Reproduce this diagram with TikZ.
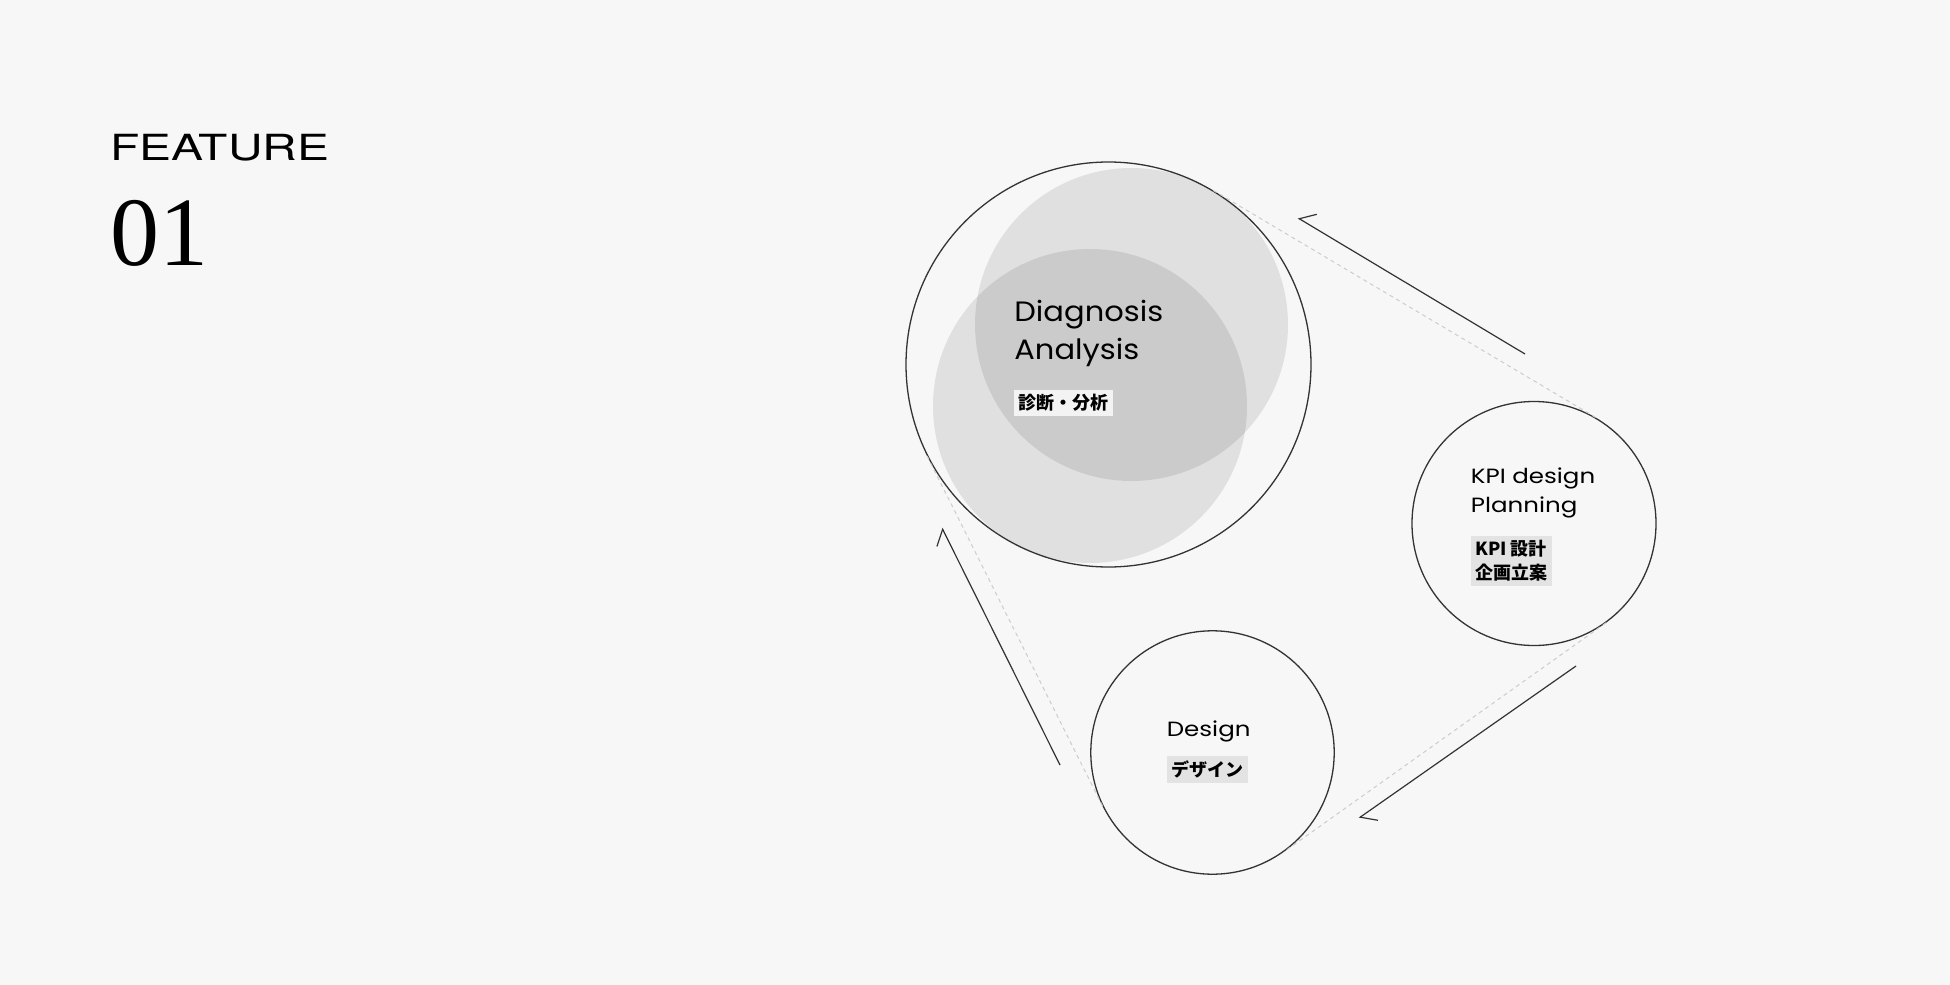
\documentclass[tikz,border=0pt]{standalone}
\usepackage{fontspec}
\setmainfont{Poppins}
\newfontfamily\titlefont[FakeStretch=1.09]{Poppins}
\newfontfamily\stepfont[FakeStretch=1.19]{Poppins}
\newfontfamily\widefont[FakeStretch=1.33]{TeX Gyre Heros}
\newfontfamily\numfont{Liberation Serif}
\newfontfamily\cjk{Noto Sans CJK JP}
\usetikzlibrary{positioning, arrows.meta}
\definecolor{bgcol}{HTML}{F7F7F7}
\definecolor{linecol}{HTML}{333333}
\definecolor{dashcol}{HTML}{CCCCCC}
\definecolor{tagcol}{HTML}{E3E3E3}
\definecolor{taglight}{HTML}{F3F3F3}

\begin{document}
\begin{tikzpicture}[x=0.5pt, y=-0.5pt,
  ring/.style={draw=linecol, line width=0.65pt, circle, inner sep=0pt},
  blob/.style={fill=black, fill opacity=0.09},
  tangent/.style={draw=dashcol, line width=0.5pt, dash pattern=on 2pt off 1.8pt},
  flow/.style={draw=linecol, line width=0.6pt, -{Straight Barb[harpoon, length=6.4pt, width=12.8pt]}},
  flowr/.style={draw=linecol, line width=0.6pt, -{Straight Barb[harpoon, swap, length=6.4pt, width=12.8pt]}},
  bigtitle/.style={anchor=base west, inner sep=0pt, font=\titlefont\fontsize{14}{17}\selectfont},
  steptitle/.style={anchor=base west, inner sep=0pt, font=\stepfont\fontsize{10.3}{12}\selectfont},
  jptag/.style={fill=tagcol, inner xsep=2.2pt, inner ysep=2.3pt, align=left,
    font=\cjk\bfseries\fontsize{9}{12}\selectfont}]
  \fill[bgcol] (0,0) rectangle (1950,985);
  \useasboundingbox (0,0) rectangle (1950,985);

  % heading
  \node[anchor=base west, inner sep=0pt, font=\widefont\fontsize{18}{20}\selectfont] (feat) at (110,160) {FEATURE};
  \node[anchor=base west, inner sep=0pt, font=\numfont\fontsize{49}{53}\selectfont] (num) at (110,265) {01};

  % circles
  \fill[blob] (1131.5,324.5) circle[radius=156.5];
  \fill[blob] (1090,406) circle[radius=157];
  \node[ring, minimum size=202.5pt] (diag) at (1108.5,364.5) {};
  \node[ring, minimum size=122pt] (kpi) at (1534,523.5) {};
  \node[ring, minimum size=121.7pt] (design) at (1212.5,752.5) {};

  % tangents
  \draw[tangent] (diag.59.3) -- (kpi.59.3);
  \draw[tangent] (kpi.-54.5) -- (design.-54.5);
  \draw[tangent] (design.206.6) -- (diag.206.6);

  % arrows
  \coordinate (a1s) at (1525,354);
  \coordinate (a1e) at (1298,218);
  \coordinate (a2s) at (1576,666);
  \coordinate (a2e) at (1359,818);
  \coordinate (a3s) at (1060,765);
  \coordinate (a3e) at (942,528);
  \draw[flowr] (a1s) -- (a1e);
  \draw[flow] (a2s) -- (a2e);
  \draw[flow] (a3s) -- (a3e);

  % labels
  \node[bigtitle] (diag1) at (1014,321.7) {Diagnosis};
  \node[bigtitle] (diag2) at (1014,359.3) {Analysis};
  \node[jptag, fill=taglight, below=15pt of diag2.base west, anchor=north west] (diagjp) {診断・分析};
  \node[steptitle] (kpi1) at (1470.5,483.3) {KPI design};
  \node[steptitle] (kpi2) at (1470.5,512) {Planning};
  \node[jptag, below=11.8pt of kpi2.base west, anchor=north west] (kpijp) {KPI 設計\\企画立案};
  \node[steptitle] (des1) at (1166.5,736.7) {Design};
  \node[jptag, below=9.6pt of des1.base west, anchor=north west] (desjp) {デザイン};
\end{tikzpicture}
\end{document}
